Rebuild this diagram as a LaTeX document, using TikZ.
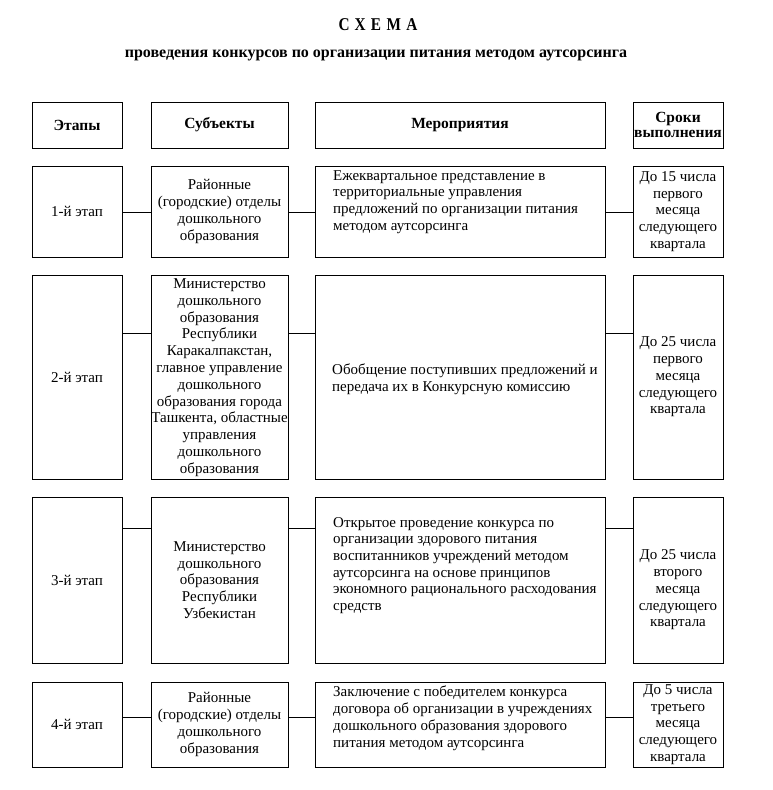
\documentclass[tikz,border=0pt]{standalone}
\usepackage{fontspec}
\setmainfont{Liberation Serif}
\begin{document}
\begin{tikzpicture}[x=1pt,y=-1pt,
  frame/.style={draw=black,line width=1pt,rectangle,inner sep=0pt,align=center,
    font=\fontsize{15}{16.8}\selectfont},
  hdr/.style={frame,font=\fontsize{15.5}{15}\selectfont\bfseries},
  txt/.style={inner sep=0pt,align=left,anchor=north west,
    font=\fontsize{15}{16.7}\selectfont},
  ctxt/.style={inner sep=0pt,align=center,font=\fontsize{15}{16.8}\selectfont},
  link/.style={draw=black,line width=1pt}]
\useasboundingbox[fill=white] (0,0) rectangle (772,790);
% title
\node[font=\fontsize{18}{20}\selectfont\bfseries] (title) at (378,25) {\addfontfeature{FakeStretch=0.85,LetterSpace=30}СХЕМА};
\node[font=\fontsize{16}{18}\selectfont\bfseries] (subtitle) at (376,55) {проведения конкурсов по организации питания методом аутсорсинга};
% header
\node[hdr,minimum width=90,minimum height=46] (he) at (77,125) {Этапы};
\node[hdr,minimum width=137,minimum height=46] (hs) at (219.5,125) {Субъекты};
\node[hdr,minimum width=290,minimum height=46] (hm) at (460,125) {Мероприятия};
\node[hdr,minimum width=90,minimum height=46] (hd) at (678,125) {Сроки\\выполнения};
% row 1
\node[frame,minimum width=90,minimum height=91] (e1) at (77,211.5) {1-й этап};
\node[frame,minimum width=137,minimum height=91] (s1) at (219.5,211.5) {Районные\\(городские) отделы\\дошкольного\\образования};
\node[frame,minimum width=290,minimum height=91] (m1) at (460,211.5) {};
\node[frame,minimum width=90,minimum height=91] (d1) at (678,211.5) {До 15 числа\\первого\\месяца\\следующего\\квартала};
\node[txt] (t1) at (333,170) {Ежеквартальное представление в\\территориальные управления\\предложений по организации питания\\методом аутсорсинга};
% row 2
\node[frame,minimum width=90,minimum height=204] (e2) at (77,377) {2-й этап};
\node[frame,minimum width=137,minimum height=204] (s2) at (219.5,377.5) {Министерство\\дошкольного\\образования\\Республики\\Каракалпакстан,\\главное управление\\дошкольного\\образования города\\Ташкента, областные\\управления\\дошкольного\\образования};
\node[frame,minimum width=290,minimum height=204] (m2) at (460,377) {};
\node[frame,minimum width=90,minimum height=204] (d2) at (678,377) {До 25 числа\\первого\\месяца\\следующего\\квартала};
\node[txt] (t2) at (332,364) {Обобщение поступивших предложений и\\передача их в Конкурсную комиссию};
% row 3
\node[frame,minimum width=90,minimum height=166] (e3) at (77,580) {3-й этап};
\node[frame,minimum width=137,minimum height=166] (s3) at (219.5,580) {Министерство\\дошкольного\\образования\\Республики\\Узбекистан};
\node[frame,minimum width=290,minimum height=166] (m3) at (460,580) {};
\node[frame,minimum width=90,minimum height=166] (d3) at (678,580) {};
\node[ctxt] (td3) at (678,590) {До 25 числа\\второго\\месяца\\следующего\\квартала};
\node[txt] (t3) at (333,517) {Открытое проведение конкурса по\\организации здорового питания\\воспитанников учреждений методом\\аутсорсинга на основе принципов\\экономного рационального расходования\\средств};
% row 4
\node[frame,minimum width=90,minimum height=85] (e4) at (77,724.5) {4-й этап};
\node[frame,minimum width=137,minimum height=85] (s4) at (219.5,724.5) {Районные\\(городские) отделы\\дошкольного\\образования};
\node[frame,minimum width=290,minimum height=85] (m4) at (460,724.5) {};
\node[frame,minimum width=90,minimum height=85] (d4) at (678,724.5) {До 5 числа\\третьего\\месяца\\следующего\\квартала};
\node[txt] (t4) at (333,686) {Заключение с победителем конкурса\\договора об организации в учреждениях\\дошкольного образования здорового\\питания методом аутсорсинга};
% connector levels
\coordinate (c1) at (0,212);
\coordinate (c2) at (0,333);
\coordinate (c3) at (0,528);
\coordinate (c4) at (0,717);
\foreach \r in {1,2,3,4}{
  \draw[link] (e\r.east |- c\r) -- (s\r.west |- c\r);
  \draw[link] (s\r.east |- c\r) -- (m\r.west |- c\r);
  \draw[link] (m\r.east |- c\r) -- (d\r.west |- c\r);
}
\end{tikzpicture}
\end{document}
